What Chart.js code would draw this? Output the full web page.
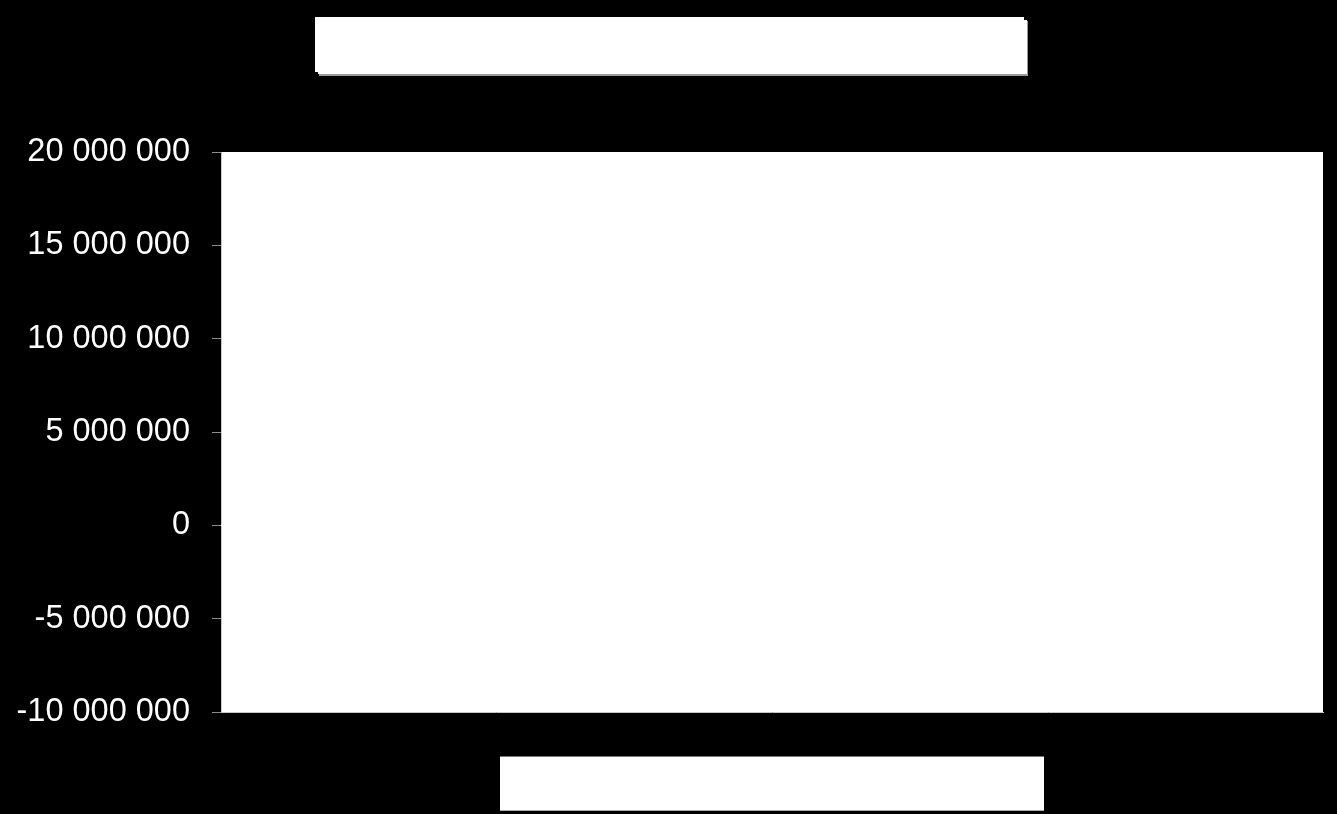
<!DOCTYPE html>
<html>
<head>
<meta charset="utf-8">
<script src="https://cdn.jsdelivr.net/npm/chart.js@4/dist/chart.umd.min.js"></script>
<style>
  html, body { margin: 0; padding: 0; background: #000; }
  #wrap { width: 1337px; height: 814px; }
</style>
</head>
<body>
<div id="wrap"><canvas id="chart" width="1337" height="814"></canvas></div>
<script>
// nothing is readable inside the plot: the series sits flat on zero, white on white
var categories = ["", "", "", "", "", ""];
var seriesValues = [0, 0, 0, 0, 0, 0];
var yTicks = [-10000000, -5000000, 0, 5000000, 10000000, 15000000, 20000000];

function spaced(v) {
    var s = Math.abs(v).toString().replace(/\B(?=(\d{3})+(?!\d))/g, " ");
    return (v < 0 ? "-" : "") + s;
}

// black page, white plot, plus the two empty white boxes (title and legend)
var backdrop = {
    id: "backdrop",
    beforeDraw: function(chart) {
        var ctx = chart.ctx;
        var a = chart.chartArea;
        ctx.save();
        ctx.fillStyle = "#000";
        ctx.fillRect(0, 0, chart.width, chart.height);
        ctx.fillStyle = "#fff";
        ctx.fillRect(a.left, a.top, a.right - a.left, a.bottom - a.top);

        // title box with a small grey shadow
        ctx.fillStyle = "#9a9a9a";
        ctx.fillRect(319, 21, 709, 55);
        ctx.fillStyle = "#fff";
        ctx.fillRect(315, 17, 709, 55);
        ctx.fillRect(318, 20, 709, 54);

        // legend box
        ctx.fillStyle = "#fff";
        ctx.fillRect(500, 757, 544, 53);
        ctx.fillStyle = "#777";
        ctx.fillRect(500, 756, 544, 1);
        ctx.fillStyle = "#aaa";
        ctx.fillRect(500, 810, 544, 1);
        ctx.restore();
    }
};

new Chart(document.getElementById("chart"), {
    type: "line",
    data: {
        labels: categories,
        datasets: [{
            label: "",
            data: seriesValues,
            borderColor: "#fff",
            borderWidth: 2,
            pointRadius: 0,
            fill: false
        }]
    },
    options: {
        responsive: false,
        animation: false,
        devicePixelRatio: 1,
        layout: { padding: { top: 152, bottom: 102, right: 14, left: 0 } },
        plugins: {
            legend: { display: false },
            title: { display: false },
            tooltip: { enabled: false }
        },
        scales: {
            x: {
                offset: false,
                ticks: { display: false },
                grid: { display: false, drawTicks: false },
                border: { display: true, color: "#c8c8c8", width: 1 }
            },
            y: {
                min: -10000000,
                max: 20000000,
                afterFit: function(scale) { scale.width = 221; },
                afterBuildTicks: function(scale) {
                    scale.ticks = yTicks.map(function(v) { return { value: v }; });
                },
                ticks: {
                    color: "#fff",
                    padding: 22,
                    font: { family: "'Liberation Sans', Arial, sans-serif", size: 32.5 },
                    callback: function(v) { return spaced(v); }
                },
                grid: {
                    drawOnChartArea: false,
                    drawTicks: true,
                    tickLength: 9,
                    color: "#8c8c8c"
                },
                border: { display: true, color: "#c8c8c8", width: 1 }
            }
        }
    },
    plugins: [backdrop]
});
</script>
</body>
</html>
